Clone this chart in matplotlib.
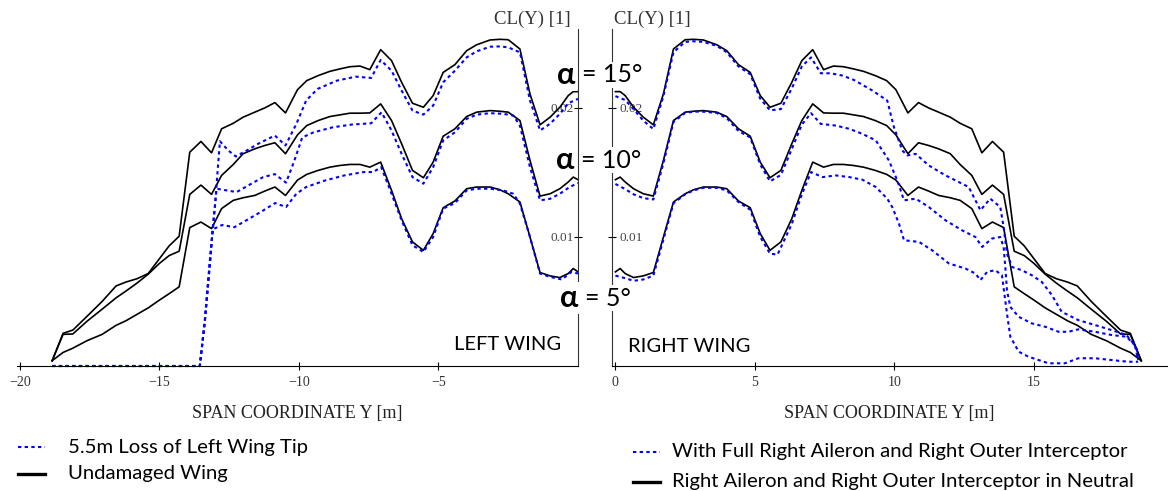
import matplotlib.pyplot as plt
from matplotlib.lines import Line2D

# spanwise stations |Y| [m] for the clean (symmetric) wing
SPAN_CLEAN = [0, 0.17, 0.35, 0.65, 1.0, 1.36, 1.72, 2.08, 2.5, 2.8, 3.15, 3.63, 3.99,
              4.41, 4.83, 5.19, 5.54, 5.93, 6.32, 6.68, 7.07, 7.46, 7.81, 8.17, 8.53,
              8.89, 9.31, 9.72, 10.05, 10.48, 10.86, 11.22, 11.58, 12.0, 12.35, 12.77,
              13.13, 13.51, 13.91, 14.29, 14.65, 15.0, 15.4, 15.8, 16.2, 16.55, 17.05,
              17.6, 18.1, 18.45, 18.84]
CL_CLEAN_15 = [0.02125, 0.02125, 0.02094, 0.02004, 0.01927, 0.01868, 0.02107, 0.02455,
               0.02527, 0.0253, 0.02525, 0.02488, 0.02442, 0.02334, 0.02274, 0.02094,
               0.02004, 0.02035, 0.02197, 0.02365, 0.0245, 0.02295, 0.02323, 0.02318,
               0.02301, 0.02282, 0.02249, 0.0221, 0.0214, 0.0196, 0.0204, 0.01999,
               0.01966, 0.01927, 0.0188, 0.01837, 0.01651, 0.01739, 0.01656, 0.01005,
               0.0093, 0.0083, 0.00716, 0.00676, 0.0065, 0.0062, 0.005, 0.00383,
               0.00278, 0.00253, 0.00041]
CL_CLEAN_10 = [0.01443, 0.01463, 0.01425, 0.01373, 0.01334, 0.01316, 0.01592, 0.01901,
               0.01966, 0.01973, 0.01978, 0.01966, 0.01932, 0.01837, 0.0178, 0.01579,
               0.01458, 0.01515, 0.01721, 0.01901, 0.0203, 0.0196, 0.01958, 0.01958,
               0.01945, 0.01932, 0.01901, 0.01862, 0.0179, 0.01644, 0.01729, 0.01708,
               0.01682, 0.01644, 0.01561, 0.01476, 0.01329, 0.01401, 0.01329, 0.00889,
               0.00855, 0.00794, 0.00711, 0.00642, 0.0058, 0.00528, 0.0044, 0.00345,
               0.00248, 0.00245, 0.00041]
CL_CLEAN_5 = [0.00729, 0.00755, 0.00716, 0.00685, 0.00698, 0.00724, 0.00999, 0.0127,
              0.01334, 0.01365, 0.01386, 0.01386, 0.01373, 0.01278, 0.01226, 0.01025,
              0.00896, 0.00961, 0.01141, 0.0136, 0.01579, 0.0154, 0.01561, 0.01561,
              0.01553, 0.0154, 0.01515, 0.01484, 0.0144, 0.01321, 0.01386, 0.01355,
              0.01321, 0.01303, 0.01283, 0.01219, 0.01064, 0.01115, 0.01072, 0.00613,
              0.0056, 0.0051, 0.0045, 0.004, 0.0035, 0.00315, 0.00245, 0.00195,
              0.00138, 0.00105, 0.00041]

# left wing with 5.5 m tip loss
LOSS_Y_15 = [-18.84, -13.55, -13.37, -13.19, -13.01, -12.83, -12.53, -12.26, -11.87,
             -11.46, -10.86, -10.48, -10.09, -9.74, -9.33, -8.64, -7.96, -7.41, -7.07,
             -6.68, -6.32, -5.93, -5.54, -5.19, -4.83, -4.41, -3.99, -3.63, -3.15, -2.8,
             -2.5, -2.08, -1.72, -1.36, -1.0, -0.65, -0.35, 0]
LOSS_CL_15 = [0, 0, 0.00355, 0.00819, 0.01231, 0.01741, 0.01669, 0.01623, 0.01669,
              0.01721, 0.01785, 0.01708, 0.01875, 0.02056, 0.02146, 0.0221, 0.02241,
              0.02231, 0.0237, 0.02287, 0.02133, 0.01978, 0.01947, 0.02017, 0.02197,
              0.02287, 0.0239, 0.02437, 0.02473, 0.02475, 0.02468, 0.02429, 0.02056,
              0.01824, 0.01876, 0.01953, 0.02035, 0.02069]
LOSS_Y_10 = [-18.84, -13.55, -13.37, -13.19, -13.05, -12.95, -12.59, -12.23, -11.76,
             -11.28, -10.86, -10.46, -10.16, -9.88, -9.47, -8.78, -8.1, -7.41, -7.04,
             -6.68, -6.32, -5.93, -5.54, -5.19, -4.83, -4.41, -3.99, -3.63, -3.15,
             -2.68, -2.32, -2.08, -1.72, -1.36, -1.0, -0.65, -0.3, 0]
LOSS_CL_10 = [0, 0, 0.0034, 0.008, 0.0115, 0.01373, 0.0136, 0.01347, 0.01405, 0.01463,
              0.01486, 0.0142, 0.01592, 0.0177, 0.0181, 0.01849, 0.0187, 0.0188,
              0.01965, 0.01824, 0.01643, 0.01463, 0.01412, 0.0154, 0.01747, 0.0181,
              0.01914, 0.01947, 0.01958, 0.01953, 0.0194, 0.01862, 0.0154, 0.01283,
              0.01295, 0.01334, 0.01386, 0.01417]
LOSS_Y_5 = [-18.84, -13.55, -13.37, -13.19, -13.09, -12.75, -12.31, -11.87, -11.35,
            -10.85, -10.46, -10.09, -9.74, -9.06, -8.37, -7.68, -7.34, -7.05, -6.68,
            -6.32, -5.93, -5.54, -5.19, -4.83, -4.41, -3.99, -3.63, -3.15, -2.68,
            -2.32, -2.08, -1.72, -1.36, -1.0, -0.58, -0.23, 0]
LOSS_CL_5 = [0, 0, 0.0035, 0.0078, 0.01058, 0.01092, 0.01075, 0.0113, 0.01195, 0.01262,
             0.01231, 0.01334, 0.01386, 0.01437, 0.01476, 0.01502, 0.01502, 0.0154,
             0.01334, 0.01128, 0.00935, 0.00883, 0.00999, 0.01219, 0.01262, 0.0136,
             0.01373, 0.01373, 0.0136, 0.01334, 0.01257, 0.00999, 0.00716, 0.0069,
             0.0067, 0.00729, 0.00716]

# right wing with full aileron and outer interceptor
AIL_Y_15 = [0, 0.35, 0.65, 1.0, 1.36, 1.72, 2.08, 2.5, 2.8, 3.15, 3.63, 3.99, 4.41, 4.83,
            5.19, 5.54, 5.93, 6.32, 6.68, 7.01, 7.36, 7.72, 8.14, 8.55, 9.21, 9.74,
            9.98, 10.28, 10.46, 10.76, 11.23, 11.83, 12.66, 13.08, 13.43, 13.79, 13.91,
            14.03, 14.21, 14.56, 14.92, 15.28, 15.64, 15.99, 16.59, 17.19, 17.78,
            18.31, 18.61, 18.73]
AIL_CL_15 = [0.0209, 0.0206, 0.0199, 0.019, 0.01835, 0.0209, 0.0243, 0.0251, 0.02515,
             0.0251, 0.0248, 0.0243, 0.0232, 0.0226, 0.0207, 0.0198, 0.0199, 0.0215,
             0.0232, 0.0239, 0.02267, 0.02267, 0.02249, 0.02215, 0.02133, 0.02056,
             0.0185, 0.01669, 0.01631, 0.01643, 0.01553, 0.01476, 0.01386, 0.01206,
             0.01296, 0.01231, 0.01077, 0.00871, 0.00767, 0.00742, 0.00703, 0.00651,
             0.00549, 0.0042, 0.00355, 0.00317, 0.00278, 0.0024, 0.00162, 0.00046]
AIL_Y_10 = [0, 0.35, 0.65, 1.0, 1.36, 1.72, 2.08, 2.5, 2.8, 3.15, 3.63, 3.99, 4.41, 4.83,
            5.19, 5.54, 5.93, 6.32, 6.68, 7.01, 7.36, 7.9, 8.38, 8.85, 9.33, 9.8, 10.1,
            10.34, 10.76, 11.23, 11.83, 12.42, 12.9, 13.14, 13.49, 13.79, 13.91, 13.97,
            14.03, 14.15, 14.45, 14.92, 15.4, 15.88, 16.23, 16.59, 17.19, 17.78,
            18.31, 18.67, 18.73]
AIL_CL_10 = [0.0141, 0.0137, 0.0133, 0.013, 0.0129, 0.0157, 0.0189, 0.0196, 0.0197,
             0.0197, 0.0196, 0.0192, 0.0182, 0.0177, 0.0156, 0.0143, 0.0148, 0.0168,
             0.0187, 0.01958, 0.01875, 0.01862, 0.01837, 0.01798, 0.01747, 0.01592,
             0.01437, 0.01283, 0.01296, 0.01231, 0.01128, 0.01051, 0.00999, 0.00922,
             0.00987, 0.00999, 0.00922, 0.00767, 0.00587, 0.00458, 0.00381, 0.0033,
             0.00304, 0.00265, 0.00265, 0.00284, 0.00265, 0.0024, 0.00227, 0.00149,
             0.00046]
AIL_Y_5 = [0, 0.35, 0.65, 1.0, 1.36, 1.72, 2.08, 2.5, 2.8, 3.15, 3.63, 3.99, 4.41, 4.83,
           5.19, 5.54, 5.81, 6.32, 6.68, 7.01, 7.42, 7.9, 8.38, 8.85, 9.33, 9.74, 9.92,
           10.16, 10.34, 10.88, 11.35, 11.95, 12.54, 12.9, 13.08, 13.32, 13.61, 13.85,
           14.03, 14.15, 14.45, 14.8, 15.52, 16.11, 16.59, 17.19, 17.78, 18.37, 18.73]
AIL_CL_5 = [0.007, 0.0068, 0.0066, 0.0067, 0.007, 0.0098, 0.0126, 0.0133, 0.0136,
            0.0138, 0.0138, 0.0136, 0.0127, 0.0121, 0.01, 0.0087, 0.00863, 0.011,
            0.0133, 0.01502, 0.01463, 0.01476, 0.01463, 0.01443, 0.01386, 0.01296,
            0.01231, 0.01103, 0.00974, 0.00961, 0.00896, 0.00794, 0.00755, 0.00716,
            0.00665, 0.00729, 0.00742, 0.00703, 0.00407, 0.00227, 0.00111, 0.00072,
            0.00021, 0.00021, 0.0006, 0.0006, 0.00046, 0.00033, 0.00033]

ALPHA_LABELS = ["15°", "10°", "5°"]
LEFT_TICKS = [-20, -15, -10, -5]
RIGHT_TICKS = [0, 5, 10, 15]
Y_TICKS = [0.01, 0.02]

SERIF = "Liberation Serif"
SANS = "Lato"
BLUE = "#0000ff"
DOTS = (0, (1.6, 1.6))
W, H = 1168, 491


def fx(px):
    return px / W


def fy(py):
    return 1 - py / H


def style_axis(ax, side):
    ax.set_ylim(0, 0.0261)
    for s in ["top", "left", "right"]:
        ax.spines[s].set_visible(False)
    ax.spines[side].set_visible(True)
    ax.spines[side].set_color("#333333")
    ax.spines["bottom"].set_color("black")
    ax.set_yticks(Y_TICKS)
    ax.set_yticklabels(["0.01", "0.02"])
    ax.tick_params(axis="x", direction="inout", length=6, width=0.8, pad=4,
                   labelsize=10, labelcolor="#333333")
    ax.tick_params(axis="y", direction="inout", length=6, width=0.8,
                   labelsize=9.5, labelcolor="#444444")
    for lab in ax.get_xticklabels() + ax.get_yticklabels():
        lab.set_family(SERIF)
    ax.set_xlabel("SPAN COORDINATE Y [m]", family=SERIF, fontsize=13,
                  color="#222222", labelpad=12)
    ax.patch.set_alpha(0)


fig = plt.figure(figsize=(W / 100, H / 100), dpi=100)

# left wing
axl = fig.add_axes([fx(17), 1 - 366 / H, fx(578 - 17), (366 - 29) / H])
axl.set_xlim(-20.1, 0)
axl.set_xticks(LEFT_TICKS)
axl.yaxis.set_ticks_position("right")
style_axis(axl, "right")
axl.tick_params(axis="y", pad=-6)
for lab in axl.get_yticklabels():
    lab.set_ha("right")

neg_span = [-s for s in SPAN_CLEAN]
for cl in (CL_CLEAN_15, CL_CLEAN_10, CL_CLEAN_5):
    axl.plot(neg_span, cl, color="black", lw=1.2)
for y, cl in ((LOSS_Y_15, LOSS_CL_15), (LOSS_Y_10, LOSS_CL_10), (LOSS_Y_5, LOSS_CL_5)):
    axl.plot(y, cl, color=BLUE, lw=1.5, linestyle=DOTS, clip_on=False)

# right wing
axr = fig.add_axes([fx(611.5), 1 - 366 / H, fx(1168 - 611.5), (366 - 29) / H])
axr.set_xlim(-0.14, 19.8)
axr.set_xticks(RIGHT_TICKS)
axr.yaxis.set_ticks_position("left")
style_axis(axr, "left")
axr.tick_params(axis="y", pad=-9)
for lab in axr.get_yticklabels():
    lab.set_ha("left")

for cl in (CL_CLEAN_15, CL_CLEAN_10, CL_CLEAN_5):
    axr.plot(SPAN_CLEAN, cl, color="black", lw=1.2)
for y, cl in ((AIL_Y_15, AIL_CL_15), (AIL_Y_10, AIL_CL_10), (AIL_Y_5, AIL_CL_5)):
    axr.plot(y, cl, color=BLUE, lw=1.5, linestyle=DOTS, clip_on=False)

# axis titles
fig.text(fx(571), fy(19), "CL(Y) [1]", family=SERIF, fontsize=13.5, color="#333333",
         ha="right", va="center")
fig.text(fx(614), fy(19), "CL(Y) [1]", family=SERIF, fontsize=13.5, color="#333333",
         ha="left", va="center")

# angle of attack labels
for (ax_px, eq_px, py), lab in zip([(557, 582, 75), (556, 581, 160), (560, 585, 298)],
                                   ALPHA_LABELS):
    box = dict(facecolor="white", edgecolor="none", pad=1)
    fig.text(fx(ax_px), fy(py), "α", family=SANS, fontsize=22, fontweight="bold",
             ha="left", va="center", bbox=box, zorder=5)
    fig.text(fx(eq_px), fy(py), "= " + lab, family=SANS, fontsize=18,
             ha="left", va="center", bbox=box, zorder=5)

fig.text(fx(561), fy(345), "LEFT WING", family=SANS, fontsize=14.5, ha="right",
         va="center", bbox=dict(facecolor="white", edgecolor="none", pad=1))
fig.text(fx(628), fy(346), "RIGHT WING", family=SANS, fontsize=14.5, ha="left",
         va="center", bbox=dict(facecolor="white", edgecolor="none", pad=1))

# legends
def legend_entry(x0, x1, py, tx, label, dotted):
    if dotted:
        line = Line2D([fx(x0), fx(x1)], [fy(py), fy(py)], transform=fig.transFigure,
                      color=BLUE, lw=1.5, linestyle=DOTS)
    else:
        line = Line2D([fx(x0), fx(x1)], [fy(py), fy(py)], transform=fig.transFigure,
                      color="black", lw=2.4)
    fig.add_artist(line)
    fig.text(fx(tx), fy(py), label, family=SANS, fontsize=14.6, ha="left", va="center")


legend_entry(18, 45, 447, 68, "5.5m Loss of Left Wing Tip", True)
legend_entry(18, 45, 474, 68, "Undamaged Wing", False)
legend_entry(633, 660, 452, 672, "With Full Right Aileron and Right Outer Interceptor", True)
legend_entry(633, 660, 482, 672, "Right Aileron and Right Outer Interceptor in Neutral", False)

fig.savefig("out.png", dpi=100)
